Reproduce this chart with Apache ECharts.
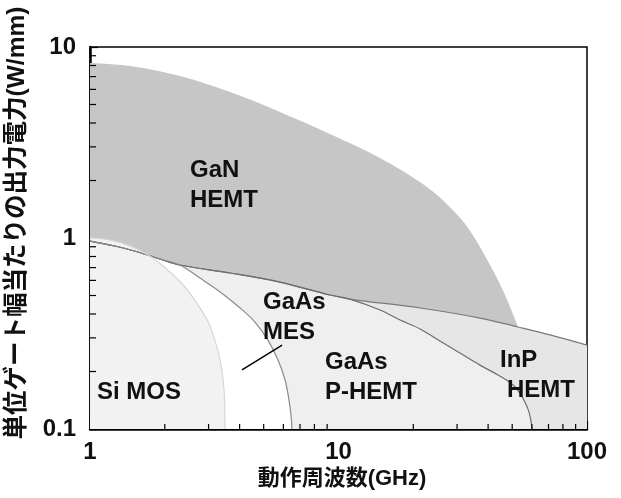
<!DOCTYPE html>
<html><head><meta charset="utf-8">
<script src="https://cdn.jsdelivr.net/npm/echarts@6/dist/echarts.min.js"></script>
<style>html,body{margin:0;padding:0;background:#fff}#c{width:621px;height:498px}</style>
</head><body><div id="c"></div>
<script>
// Axis ranges and tick values
const xRange = [1, 100];
const yRange = [0.1, 10];
const xMinorTicks = [2,3,4,5,6,7,8,9,20,30,40,50,60,70,80,90];
const yMinorTicks = [0.2,0.3,0.4,0.5,0.6,0.7,0.8,0.9,2,3,4,5,6,7,8,9];

// Region boundaries [frequency GHz, power W/mm]
const ganHemt = [[1,8.25],[1.45,7.95],[2.30,7.05],[3.66,5.81],[5.81,4.57],[9.24,3.50],[14.7,2.62],[22.7,1.85],[28.1,1.45],[33.2,1.13],[40.7,0.722],[46.8,0.503],[52.8,0.342]];
const inpHemt = [[1,0.964],[1.26,0.908],[1.56,0.845],[1.91,0.776],[2.30,0.722],[3.66,0.656],[5.81,0.588],[9.24,0.503],[11.1,0.479],[21.3,0.430],[37.1,0.381],[52.8,0.342],[71.0,0.311],[100,0.275]];
const gaasPhemt = [[1,0.964],[1.26,0.908],[1.56,0.845],[1.91,0.776],[2.30,0.722],[3.66,0.656],[5.81,0.588],[9.24,0.503],[11.1,0.479],[14.7,0.420],[17.7,0.372],[21.3,0.334],[25.6,0.289],[30.8,0.250],[37.1,0.216],[44.7,0.189],[50.4,0.170],[53.7,0.154],[56.3,0.138],[58.4,0.123],[59.5,0.110],[60.1,0.1]];
const gaasMes = [[1,0.964],[1.26,0.908],[1.56,0.845],[1.91,0.776],[2.30,0.722],[2.77,0.617],[3.34,0.522],[4.02,0.430],[4.61,0.363],[5.20,0.292],[5.71,0.230],[6.09,0.181],[6.32,0.142],[6.44,0.118],[6.50,0.1]];
const siMos = [[1,1.0],[1.20,0.976],[1.45,0.908],[1.74,0.805],[2.10,0.664],[2.41,0.554],[2.72,0.446],[2.99,0.363],[3.18,0.292],[3.34,0.230],[3.43,0.181],[3.48,0.142],[3.49,0.1]];
const mesPointer = [[5.93,0.275],[4.09,0.204]];

const FONT = "'Liberation Sans', 'Noto Sans CJK JP', sans-serif";

function area(name, data, fill, stroke, sw) {
  return {
    type: 'line', name, data, symbol: 'none', smooth: 0.35, silent: true,
    lineStyle: { color: stroke, width: sw },
    areaStyle: { color: fill, opacity: 1, origin: 'start' }
  };
}

function minorTickSeries(vals, dir) {
  return {
    type: 'custom', silent: true, z: 10,
    data: vals.map(v => [v]),
    renderItem: function (params, api) {
      const v = api.value(0);
      let p, q;
      if (dir === 'x') {
        p = api.coord([v, yRange[0]]);
        q = [p[0], p[1] - 5];
      } else {
        p = api.coord([xRange[0], v]);
        q = [p[0] + 6, p[1]];
      }
      return { type: 'line', shape: { x1: p[0], y1: p[1], x2: q[0], y2: q[1] }, style: { stroke: '#000', lineWidth: 1.2 } };
    }
  };
}

const chart = echarts.init(document.getElementById('c'));
const labelStyle = { fontSize: 24, fill: '#111', fontFamily: FONT, fontWeight: 'bold' };
chart.setOption({
  animation: false,
  grid: { left: 90, top: 47, right: 34, bottom: 69, show: true, borderColor: '#000', borderWidth: 1.5, backgroundColor: 'transparent' },
  xAxis: {
    type: 'log', logBase: 10, min: xRange[0], max: xRange[1],
    axisLine: { lineStyle: { color: '#000', width: 2.5 } },
    axisTick: { inside: true, length: 8, lineStyle: { color: '#000', width: 1.2 } },
    axisLabel: { fontSize: 24, color: '#111', margin: 11, fontFamily: FONT, fontWeight: 'bold' },
    splitLine: { show: false }
  },
  yAxis: {
    type: 'log', logBase: 10, min: yRange[0], max: yRange[1],
    axisLine: { lineStyle: { color: '#000', width: 2.5 } },
    axisTick: { inside: true, length: 8, lineStyle: { color: '#000', width: 1.2 } },
    axisLabel: { fontSize: 24, color: '#111', margin: 14, fontFamily: FONT, fontWeight: 'bold' },
    splitLine: { show: false }
  },
  series: [
    area('GaN HEMT', ganHemt, '#c6c6c6', 'rgba(0,0,0,0)', 0),
    area('InP HEMT', inpHemt, '#e6e6e6', '#7a7a7a', 1.2),
    area('GaAs P-HEMT', gaasPhemt, '#efefef', '#6e6e6e', 1.2),
    area('GaAs MES', gaasMes, '#ffffff', '#8a8a8a', 1.2),
    area('Si MOS', siMos, '#f2f2f2', '#d6d6d6', 1.2),
    { type: 'line', data: mesPointer, symbol: 'none', silent: true, lineStyle: { color: '#000', width: 1.5 }, z: 5 },
    minorTickSeries(xMinorTicks, 'x'),
    minorTickSeries(yMinorTicks, 'y')
  ],
  graphic: [
    { type: 'text', z: 100, x: 17, y: 223, rotation: Math.PI / 2,
      style: { text: '単位ゲート幅当たりの出力電力(W/mm)', fontSize: 24.5, fill: '#111', fontFamily: FONT, fontWeight: 'bold', align: 'center', verticalAlign: 'middle' } },
    { type: 'text', z: 100, x: 342, y: 479,
      style: { text: '動作周波数(GHz)', fontSize: 22, fill: '#111', fontFamily: FONT, fontWeight: 'bold', align: 'center', verticalAlign: 'middle' } },
    { type: 'text', z: 100, left: 190, top: 155, style: Object.assign({ text: 'GaN\nHEMT', lineHeight: 30 }, labelStyle) },
    { type: 'text', z: 100, left: 263, top: 287, style: Object.assign({ text: 'GaAs\nMES', lineHeight: 30 }, labelStyle) },
    { type: 'text', z: 100, left: 325, top: 347, style: Object.assign({ text: 'GaAs\nP-HEMT', lineHeight: 30 }, labelStyle) },
    { type: 'text', z: 100, left: 500, top: 348, style: Object.assign({ text: 'InP' }, labelStyle) },
    { type: 'text', z: 100, left: 507, top: 378, style: Object.assign({ text: 'HEMT' }, labelStyle) },
    { type: 'text', z: 100, left: 97, top: 380, style: Object.assign({ text: 'Si MOS' }, labelStyle) }
  ]
});
</script></body></html>
